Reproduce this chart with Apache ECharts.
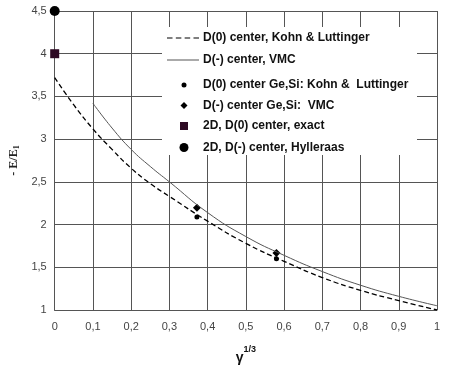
<!DOCTYPE html>
<html>
<head>
<meta charset="utf-8">
<script src="https://cdn.jsdelivr.net/npm/echarts@6/dist/echarts.min.js"></script>
<style>
  html, body { margin: 0; padding: 0; background: #fff; }
  #chart { width: 456px; height: 370px; }
</style>
</head>
<body>
<div id="chart"></div>
<script>
  // gamma^(1/3) -> -E/E1
  var klX = [0, 0.05, 0.1, 0.15, 0.2, 0.25, 0.3, 0.4, 0.5, 0.6, 0.7, 0.8, 0.9, 1.0];
  var klY = [3.72, 3.40, 3.12, 2.88, 2.66, 2.48, 2.33, 2.04, 1.78, 1.57, 1.38, 1.23, 1.11, 1.0];  // D(0) Kohn & Luttinger
  var vmcX = [0.1, 0.15, 0.2, 0.25, 0.3, 0.4, 0.5, 0.6, 0.7, 0.8, 0.9, 1.0];
  var vmcY = [3.42, 3.13, 2.88, 2.68, 2.50, 2.14, 1.86, 1.64, 1.45, 1.29, 1.16, 1.05];  // D(-) VMC
  var geSiX = [0.372, 0.58];
  var geSiD0 = [2.09, 1.60];
  var geSiDm = [2.196, 1.666];
  var exact2D = [[0, 4]];
  var hyll2D = [[0, 4.5]];

  var names = [
    'D(0) center, Kohn & Luttinger',
    'D(-) center, VMC',
    'D(0) center Ge,Si: Kohn &  Luttinger',
    'D(-) center Ge,Si:  VMC',
    '2D, D(0) center, exact',
    '2D, D(-) center, Hylleraas'
  ];

  function pairs(xs, ys) {
    return xs.map(function (x, i) { return [x, ys[i]] })
  }
  function comma(v) {
    return String(v).replace('.', ',')
  }

  // legend rows: [centre y, icon width, icon height, icon]
  var rows = [
    [39, 32, 14, 'path://M0,0H5V1H0Z M8,0H13V1H8Z M16,0H21V1H16Z M24,0H29V1H24Z'],
    [61, 32, 14, 'path://M0,0H32V1H0Z'],
    [81.5, 5, 5, 'circle'],
    [103, 7, 7, 'diamond'],
    [124, 8, 8, 'rect'],
    [146, 9, 9, 'circle']
  ]
  var legends = rows.map(function (r, i) {
    var left = r[1] === 32 ? 167 : 184 - r[1] / 2
    return {
      left: left,
      top: r[0] - r[2] / 2,
      padding: 0,
      itemWidth: r[1],
      itemHeight: r[2],
      selectedMode: false,
      textStyle: {
        color: '#111', fontSize: 12, fontWeight: 'bold', fontFamily: 'Liberation Sans',
        padding: [0, 0, 0, 203 - (left + r[1] + 5)]
      },
      data: [{ name: names[i], icon: r[3] }]
    }
  })

  var chart = echarts.init(document.getElementById('chart'))
  var option = {
    animation: false,
    grid: { left: 49, right: 19, top: 11, bottom: 56 },
    graphic: [{
      type: 'rect', left: 162, top: 27, z: 1,
      shape: { width: 255, height: 128 },
      style: { fill: '#fff' }
    }],
    legend: legends,
    xAxis: {
      type: 'value', min: 0, max: 1, interval: 0.1,
      name: '{g|γ}{s|1/3}',
      nameLocation: 'middle',
      nameGap: 35,
      nameTextStyle: {
        rich: {
          g: { fontSize: 14, fontWeight: 'bold', fontFamily: 'Liberation Sans', color: '#111', verticalAlign: 'bottom', lineHeight: 20 },
          s: { fontSize: 9, fontWeight: 'bold', fontFamily: 'Liberation Sans', color: '#111', verticalAlign: 'top', lineHeight: 20 }
        }
      },
      axisLine: { lineStyle: { color: '#555', width: 1 } },
      axisTick: { show: false },
      axisLabel: { color: '#444', fontSize: 11, fontFamily: 'Liberation Sans', margin: 11, formatter: comma },
      splitLine: { show: true, lineStyle: { color: '#555', width: 1 } }
    },
    yAxis: {
      type: 'value', min: 1, max: 4.5, interval: 0.5,
      name: '- E/E{sub|1}',
      nameLocation: 'middle',
      nameRotate: 90,
      nameGap: 31,
      nameTextStyle: {
        fontFamily: 'Liberation Serif', fontWeight: 'bold', fontSize: 12, color: '#222',
        rich: {
          sub: { fontFamily: 'Liberation Serif', fontWeight: 'bold', fontSize: 8, color: '#222', padding: [5, 0, 0, 0] }
        }
      },
      axisLine: { lineStyle: { color: '#555', width: 1 } },
      axisTick: { show: false },
      axisLabel: { color: '#444', fontSize: 11, fontFamily: 'Liberation Sans', margin: 8, formatter: comma },
      splitLine: { show: true, lineStyle: { color: '#555', width: 1 } }
    },
    series: [
      {
        name: names[0], type: 'line', smooth: true, symbol: 'none',
        color: '#000',
        lineStyle: { color: '#000', width: 1.3, type: [5, 3] },
        data: pairs(klX, klY)
      },
      {
        name: names[1], type: 'line', smooth: true, symbol: 'none',
        color: '#555',
        lineStyle: { color: '#555', width: 1 },
        data: pairs(vmcX, vmcY)
      },
      {
        name: names[2], type: 'scatter', symbol: 'circle', symbolSize: 5, clip: false,
        itemStyle: { color: '#000', opacity: 1 },
        data: pairs(geSiX, geSiD0)
      },
      {
        name: names[3], type: 'scatter', symbol: 'diamond', symbolSize: 8, clip: false,
        itemStyle: { color: '#000', opacity: 1 },
        data: pairs(geSiX, geSiDm)
      },
      {
        name: names[4], type: 'scatter', symbol: 'rect', symbolSize: 9, clip: false,
        itemStyle: { color: '#2e0a24', opacity: 1 },
        data: exact2D
      },
      {
        name: names[5], type: 'scatter', symbol: 'circle', symbolSize: 10, clip: false,
        itemStyle: { color: '#000', opacity: 1 },
        data: hyll2D
      }
    ]
  }
  chart.setOption(option)
</script>
</body>
</html>
